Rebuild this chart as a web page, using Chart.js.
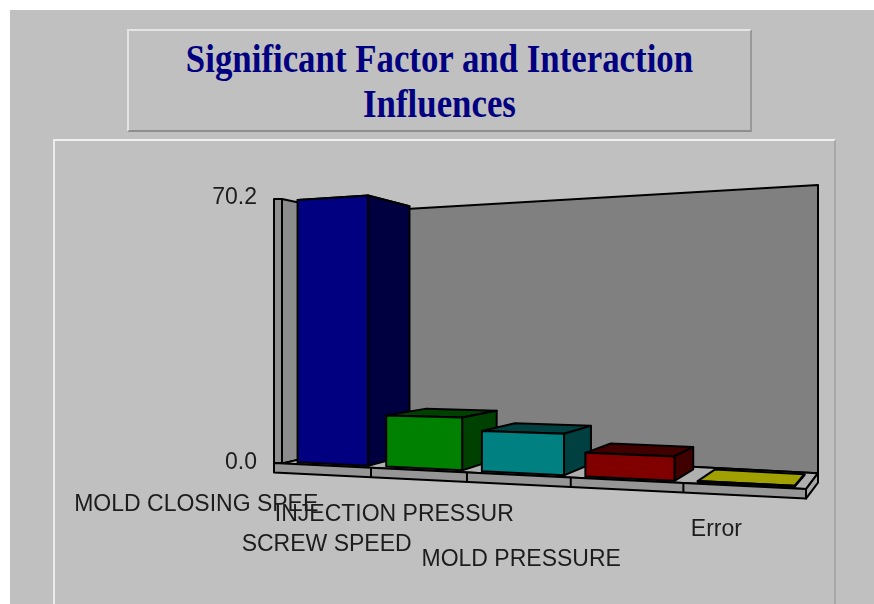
<!DOCTYPE html>
<html>
<head>
<meta charset="utf-8">
<script src="https://cdn.jsdelivr.net/npm/chart.js@4"></script>
<style>
html,body{margin:0;padding:0;background:#fff;overflow:hidden;width:874px;height:604px}
#wrap{position:absolute;left:0;top:0;width:874px;height:604px;overflow:hidden;filter:blur(.7px)}
#outer{position:absolute;left:10px;top:10px;width:880px;height:620px;background:#c0c0c0}
#titlebox{position:absolute;left:127px;top:29px;width:621px;height:99px;background:#c0c0c0;
 border-top:2px solid #e4e4e4;border-left:2px solid #e4e4e4;border-right:2px solid #989898;border-bottom:2px solid #8e8e8e}
#title{position:absolute;left:-100px;width:821px;top:5px;text-align:center;color:#000080;
 font:bold 39px/45px "Liberation Serif",serif;transform:scaleX(.893);transform-origin:50% 50%}
#panel{position:absolute;left:53px;top:139px;width:779px;height:480px;background:#c0c0c0;
 border-top:2px solid #f0f0f0;border-left:2px solid #ececec;border-right:2px solid #a8a8a8}
#c{position:absolute;left:0;top:0}
</style>
</head>
<body>
<div id="wrap">
<div id="outer"></div>
<div id="panel"></div>
<div id="titlebox"><div id="title">Significant Factor and Interaction<br>Influences</div></div>
<canvas id="c" width="874" height="604"></canvas>
</div>
<script>
const categories = ["MOLD CLOSING SPEE","SCREW SPEED","INJECTION PRESSUR","MOLD PRESSURE","Error"];
const values = [70.2,13.2,10.0,5.6,0.2];
const yTickValues = [0,70.2];
const frontColors = ["#000080","#008000","#008080","#800000","#808000"];
const sideColors = ["#000040","#004000","#004040","#400000","#404000"];
const topColors = ["#000040","#004000","#004040","#400000","#a0a000"];

// Where each staggered category label sits, relative to its bar centre
const labelShiftX = [-136,-97,-128,-108,-29];
const labelY = [505,545,515,560,530];

// The oblique view of the plot box
const view = {
  k:1.222, depthFront:.11, depthBack:.85,
  fx0:282, fx1:806, bx0:346, bx1:818,
  fbY:463, fbS:.049, fbX:274,
  ftY:199, ftS:-.065, ftX:282,
  bbY:449, bbS:.0513, bbX:346,
  btY:212.6, btS:-.0587, btX:346,
  slabLeft:274, slabDrop:9.5
};
const lerp=(a,b,t)=>a+(b-a)*t;
function project(u,v,w){
  const V=view, t=u/(u+V.k*(1-u));
  const xf=lerp(V.fx0,V.fx1,t), xb=lerp(V.bx0,V.bx1,t);
  const bot=lerp(V.fbY+V.fbS*(xf-V.fbX), V.bbY+V.bbS*(xb-V.bbX), w);
  const top=lerp(V.ftY+V.ftS*(xf-V.ftX), V.btY+V.btS*(xb-V.btX), w);
  return [lerp(xf,xb,w), lerp(bot,top,v)];
}
function poly(ctx,pts,fill){
  ctx.beginPath();
  pts.forEach((p,i)=>i?ctx.lineTo(p[0],p[1]):ctx.moveTo(p[0],p[1]));
  ctx.closePath();
  if(fill){ctx.fillStyle=fill;ctx.fill();}
  ctx.stroke();
}
const box3d = {
  id:'box3d',
  beforeDatasetsDraw(chart){
    const ctx=chart.ctx, a=chart.chartArea, V=view, xs=chart.scales.x;
    ctx.save();
    ctx.lineJoin='round';
    ctx.strokeStyle='#000';
    ctx.lineWidth=2;
    // frame
    const fl=project(0,0,0), fr=project(1,0,0), bl=project(0,0,1), br=project(1,0,1);
    const tfl=project(0,1,0), tbl=project(0,1,1), tbr=project(1,1,1);
    const slabL=[V.slabLeft, V.fbY];
    poly(ctx,[[V.slabLeft,tfl[1]],tfl,fl,slabL],'#909090');
    poly(ctx,[tfl,tbl,bl,fl],'#8c8c8c');
    poly(ctx,[tbl,tbr,br,bl],'#808080');
    poly(ctx,[slabL,fr,br,bl,fl],'#b0b0b0');
    const drop=V.slabDrop;
    poly(ctx,[slabL,fr,[fr[0],fr[1]+drop],[slabL[0],slabL[1]+drop]],'#969696');
    poly(ctx,[fr,br,[br[0],br[1]+drop],[fr[0],fr[1]+drop]],'#a8a8a8');
    // slot boundaries on the slab front
    for(let i=1;i<categories.length;i++){
      const u=(xs.getPixelForValue(i-.5)-a.left)/a.width;
      const p=project(u,0,0);
      ctx.beginPath();ctx.moveTo(p[0],p[1]);ctx.lineTo(p[0],p[1]+drop);ctx.stroke();
    }
    // bars
    const meta=chart.getDatasetMeta(0);
    meta.data.forEach((el,i)=>{
      const ul=(el.x-el.width/2-a.left)/a.width, ur=(el.x+el.width/2-a.left)/a.width;
      const v=(el.base-el.y)/a.height, w0=V.depthFront, w1=V.depthBack;
      poly(ctx,[project(ul,v,w0),project(ur,v,w0),project(ur,v,w1),project(ul,v,w1)],topColors[i]);
      poly(ctx,[project(ur,0,w0),project(ur,0,w1),project(ur,v,w1),project(ur,v,w0)],sideColors[i]);
      poly(ctx,[project(ul,0,w0),project(ur,0,w0),project(ur,v,w0),project(ul,v,w0)],el.options.backgroundColor);
    });
    // staggered category labels
    ctx.fillStyle='#1c1c1c';
    ctx.font='23px "Liberation Sans",Arial,sans-serif';
    ctx.textAlign='center';ctx.textBaseline='middle';
    meta.data.forEach((el,i)=>{
      const u=(el.x-a.left)/a.width, p=project(u,0,V.depthFront);
      ctx.fillText(categories[i],p[0]+labelShiftX[i],labelY[i]);
    });
    ctx.restore();
    return false;
  }
};
new Chart(document.getElementById('c'),{
  type:'bar',
  data:{labels:categories,datasets:[{data:values,backgroundColor:frontColors,borderWidth:0,
    categoryPercentage:1,barPercentage:.8}]},
  plugins:[box3d],
  options:{
    responsive:false,animation:false,
    layout:{padding:{left:0,top:196,right:68,bottom:143}},
    plugins:{legend:{display:false},title:{display:false},tooltip:{enabled:false}},
    scales:{
      x:{display:false,offset:true},
      y:{min:0,max:70.2,
        afterBuildTicks(s){s.ticks=yTickValues.map(value=>({value}));},
        afterFit(s){s.width=274;},
        grid:{display:false,drawTicks:false},border:{display:false},
        ticks:{padding:17,labelOffset:2,color:'#1c1c1c',font:{family:'"Liberation Sans",Arial,sans-serif',size:23},
          callback:v=>Number(v).toFixed(1)}}
    }
  }
});
</script>
</body>
</html>
